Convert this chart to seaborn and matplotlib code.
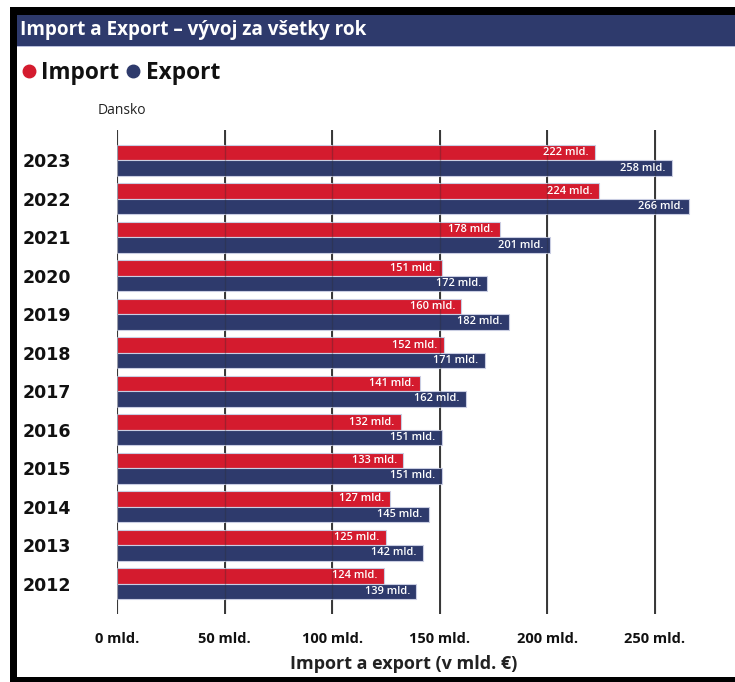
import matplotlib
matplotlib.use("Agg")
import matplotlib.pyplot as plt
from matplotlib.patches import Rectangle
from matplotlib.lines import Line2D
import seaborn as sns
import pandas as pd

years = ["2023", "2022", "2021", "2020", "2019", "2018", "2017", "2016", "2015", "2014", "2013", "2012"]
import_vals = [222, 224, 178, 151, 160, 152, 141, 132, 133, 127, 125, 124]
export_vals = [258, 266, 201, 172, 182, 171, 162, 151, 151, 145, 142, 139]
series = ["Import", "Export"]
xticks = [0, 50, 100, 150, 200, 250]
xtick_labels = [f"{v} mld." for v in xticks]
title = "Import a Export – vývoj za všetky rok"
country = "Dansko"
xlabel = "Import a export (v mld. €)"

RED = "#D41B2E"
NAVY = "#2E3A6C"

sns.set_theme(style="white")
plt.rcParams["font.family"] = ["Open Sans", "DejaVu Sans"]

W, H = 735, 682
fig = plt.figure(figsize=(W / 100, H / 100), dpi=100)
fig.patch.set_facecolor("white")


def fx(px):
    return px / W


def fy(py):
    return 1 - py / H


# axes: x=0 at px 117, 2.152 px/unit, xlim 0..280 ; top 130, bottom 614
ax_left = 117
ax_w = 280 * 2.152
ax_top, ax_bot = 130, 614
ax = fig.add_axes([fx(ax_left), fy(ax_bot), ax_w / W, (ax_bot - ax_top) / H])

df = pd.DataFrame({
    "year": years * 2,
    "value": import_vals + export_vals,
    "type": ["Import"] * len(years) + ["Export"] * len(years),
})

sns.barplot(data=df, y="year", x="value", hue="type", order=years,
            hue_order=series, palette=[RED, NAVY], orient="h", width=0.8,
            saturation=1, edgecolor="#c9cde2", linewidth=0.8, legend=False,
            ax=ax, zorder=2)

ax.set_xlim(0, 280)
ax.set_ylim(len(years) - 1 + 0.79, -0.79)
for s in ax.spines.values():
    s.set_visible(False)

# gridlines
for v in xticks:
    ax.axvline(v, color="#2b2b2b", lw=1.3, zorder=1)
    ax.axvline(v, color="#2b2b2b", lw=1.0, alpha=0.3, zorder=3)

ax.set_xticks(xticks)
ax.set_xticklabels(xtick_labels, fontsize=10.5, fontweight="bold", color="#111111")
ax.tick_params(axis="x", length=0, pad=13)
ax.set_xlabel("")
ax.set_ylabel("")
ax.set_yticks(range(len(years)))
ax.set_yticklabels(years, fontsize=12.5, fontweight="bold", family="DejaVu Sans", color="#111111")
ax.tick_params(axis="y", length=0, pad=68)
for lab in ax.get_yticklabels():
    lab.set_horizontalalignment("left")

# value labels
for cont in ax.containers:
    for p in cont:
        w = p.get_width()
        yc = p.get_y() + p.get_height() / 2
        ax.annotate(f"{w:.0f} mld.", (w, yc), xytext=(-4.5, 0), textcoords="offset points",
                    ha="right", va="center", fontsize=7.9, fontweight="semibold",
                    color="white", zorder=5)

# frame and title bar
fig.add_artist(Rectangle((fx(10), fy(15)), 1 - fx(10), (15 - 7) / H, transform=fig.transFigure,
                         facecolor="black", edgecolor="none"))
fig.add_artist(Rectangle((fx(10), 0), (17 - 10) / W, fy(7), transform=fig.transFigure,
                         facecolor="black", edgecolor="none"))
fig.add_artist(Rectangle((fx(10), 0), 1 - fx(10), (682 - 677) / H, transform=fig.transFigure,
                         facecolor="black", edgecolor="none"))
fig.add_artist(Rectangle((fx(17), fy(46)), 1 - fx(17), (46 - 15) / H, transform=fig.transFigure,
                         facecolor=NAVY, edgecolor="none"))
fig.add_artist(Rectangle((fx(17), fy(47)), 1 - fx(17), 1 / H, transform=fig.transFigure,
                         facecolor="#b9bfdc", edgecolor="none"))
fig.text(fx(20), fy(30), title, color="white", fontsize=13.6, fontweight="bold",
         ha="left", va="center")

# legend
handles = [Line2D([], [], marker="o", ls="", color=RED, markersize=9),
           Line2D([], [], marker="o", ls="", color=NAVY, markersize=9)]
leg = fig.legend(handles, series, loc="center left", bbox_to_anchor=(fx(22), fy(73)),
                 ncol=2, frameon=False, handlelength=0.6, handletextpad=0.25,
                 columnspacing=0.32, borderaxespad=0, borderpad=0,
                 prop={"family": "Open Sans", "weight": "bold", "size": 16.3})
for t in leg.get_texts():
    t.set_color("#111111")

fig.text(fx(98), fy(111), country, fontsize=10, color="#222222", ha="left", va="center")
fig.text(fx(403.5), fy(664), xlabel, fontsize=13, fontweight="bold", color="#222222",
         ha="center", va="center")

fig.savefig("out.png", dpi=100)
